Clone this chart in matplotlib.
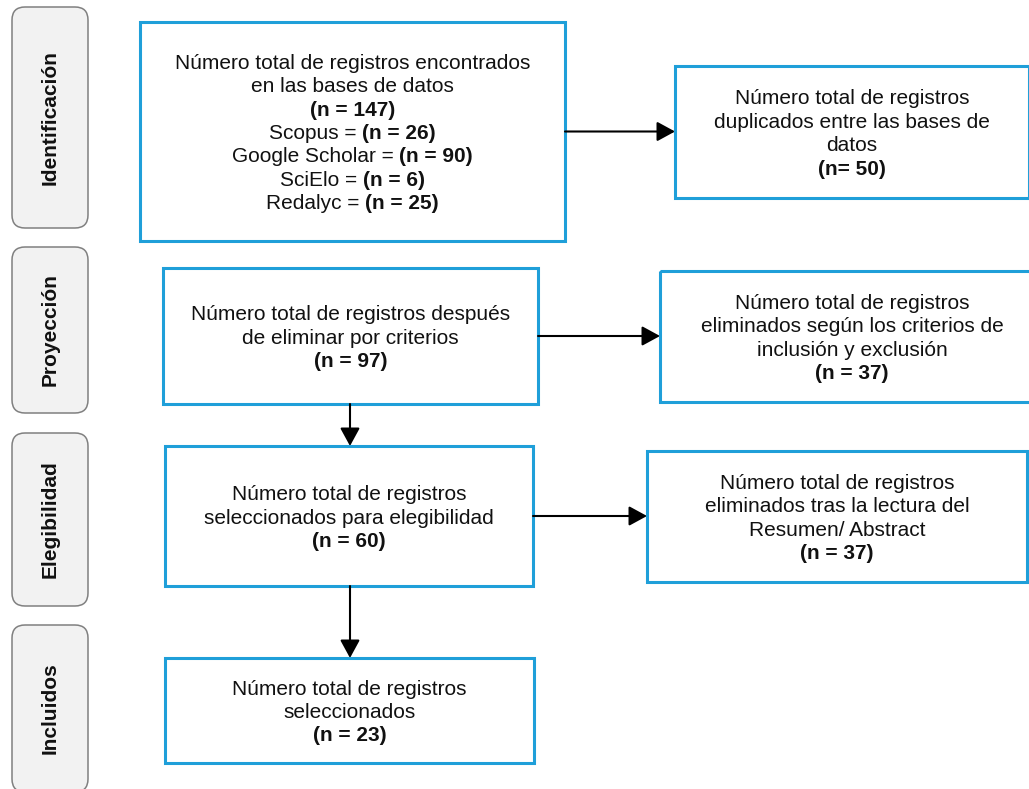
import matplotlib
matplotlib.use("Agg")
import matplotlib.pyplot as plt
from matplotlib.patches import FancyBboxPatch, Rectangle

# ── Data ──────────────────────────────────────────────────────────────────────

STAGES = ["Identificación", "Proyección", "Elegibilidad", "Incluidos"]

MAIN_TEXT = [
    ["Número total de registros encontrados", "en las bases de datos"],
    ["Número total de registros después", "de eliminar por criterios"],
    ["Número total de registros", "seleccionados para elegibilidad"],
    ["Número total de registros", "seleccionados"],
]
MAIN_N = [147, 97, 60, 23]

DB_NAMES = ["Scopus", "Google Scholar", "SciElo", "Redalyc"]
DB_N = [26, 90, 6, 25]

SIDE_TEXT = [
    ["Número total de registros", "duplicados entre las bases de", "datos"],
    ["Número total de registros", "eliminados según los criterios de", "inclusión y exclusión"],
    ["Número total de registros", "eliminados tras la lectura del", "Resumen/ Abstract"],
]
SIDE_N_LABELS = ["(n= {})", "(n = {})", "(n = {})"]
SIDE_N = [50, 37, 37]

# ── Layout (pixels, y down) ───────────────────────────────────────────────────

STAGE_BOXES = [(12, 7, 88, 228), (12, 247, 88, 413), (12, 433, 88, 606), (12, 625, 88, 792)]
MAIN_BOXES = [(140, 22, 565, 241), (163, 268, 538, 404), (165, 446, 533, 586), (165, 658, 534, 763)]
SIDE_BOXES = [(675, 66, 1029, 198), (660, 271, 1044, 402), (647, 451, 1027, 582)]

BLUE = "#1f9fd9"
FS = 15
LINE_STEP = 23.4
BASE_OFF = 7.5

plt.rcParams["font.family"] = ["Liberation Sans", "DejaVu Sans"]

fig = plt.figure(figsize=(10.29, 7.89), dpi=100)
ax = fig.add_axes([0, 0, 1, 1])
ax.set_xlim(0, 1029)
ax.set_ylim(789, 0)
ax.axis("off")
renderer = fig.canvas.get_renderer()


def draw_line(cx, cy, parts):
    """Draw one centred line made of (text, bold) pieces."""
    texts = []
    for s, bold in parts:
        t = ax.text(0, cy + BASE_OFF, s, fontsize=FS, color="#111111",
                    fontweight="bold" if bold else "normal", ha="left", va="baseline")
        texts.append(t)
    widths = [t.get_window_extent(renderer).width for t in texts]
    x = cx - sum(widths) / 2
    for t, w in zip(texts, widths):
        t.set_x(x)
        x += w


def draw_block(box, lines):
    x0, y0, x1, y1 = box
    ax.add_patch(Rectangle((x0, y0), x1 - x0, y1 - y0, fill=False,
                           edgecolor=BLUE, linewidth=2.2, zorder=2))
    cx, cy = (x0 + x1) / 2, (y0 + y1) / 2
    top = cy - LINE_STEP * (len(lines) - 1) / 2
    for i, parts in enumerate(lines):
        draw_line(cx, top + i * LINE_STEP, parts)


def arrow(x0, y0, x1, y1):
    ax.annotate("", xy=(x1, y1), xytext=(x0, y0),
                arrowprops=dict(arrowstyle="-|>,head_length=0.55,head_width=0.3",
                                mutation_scale=20, color="black", linewidth=1.5,
                                shrinkA=0, shrinkB=0))


# stage labels
for (x0, y0, x1, y1), label in zip(STAGE_BOXES, STAGES):
    ax.add_patch(FancyBboxPatch((x0, y0), x1 - x0, y1 - y0,
                                boxstyle="round,pad=0,rounding_size=13",
                                facecolor="#f2f2f2", edgecolor="#808080", linewidth=1.1))
    ax.text((x0 + x1) / 2, (y0 + y1) / 2, label, rotation=90, fontsize=FS,
            fontweight="bold", ha="center", va="center", color="#111111")

# main column
for i, box in enumerate(MAIN_BOXES):
    lines = [[(s, False)] for s in MAIN_TEXT[i]]
    lines.append([(f"(n = {MAIN_N[i]})", True)])
    if i == 0:
        for name, n in zip(DB_NAMES, DB_N):
            lines.append([(f"{name} = ", False), (f"(n = {n})", True)])
    draw_block(box, lines)

# excluded column
for i, box in enumerate(SIDE_BOXES):
    lines = [[(s, False)] for s in SIDE_TEXT[i]]
    lines.append([(SIDE_N_LABELS[i].format(SIDE_N[i]), True)])
    draw_block(box, lines)

# horizontal arrows
for mb, sb in zip(MAIN_BOXES, SIDE_BOXES):
    cy = (mb[1] + mb[3]) / 2
    arrow(mb[2], cy, sb[0], cy)

# vertical arrows
for upper, lower in zip(MAIN_BOXES[1:], MAIN_BOXES[2:]):
    arrow(350, upper[3], 350, lower[1])

fig.savefig("out.png", dpi=100, facecolor="white")
